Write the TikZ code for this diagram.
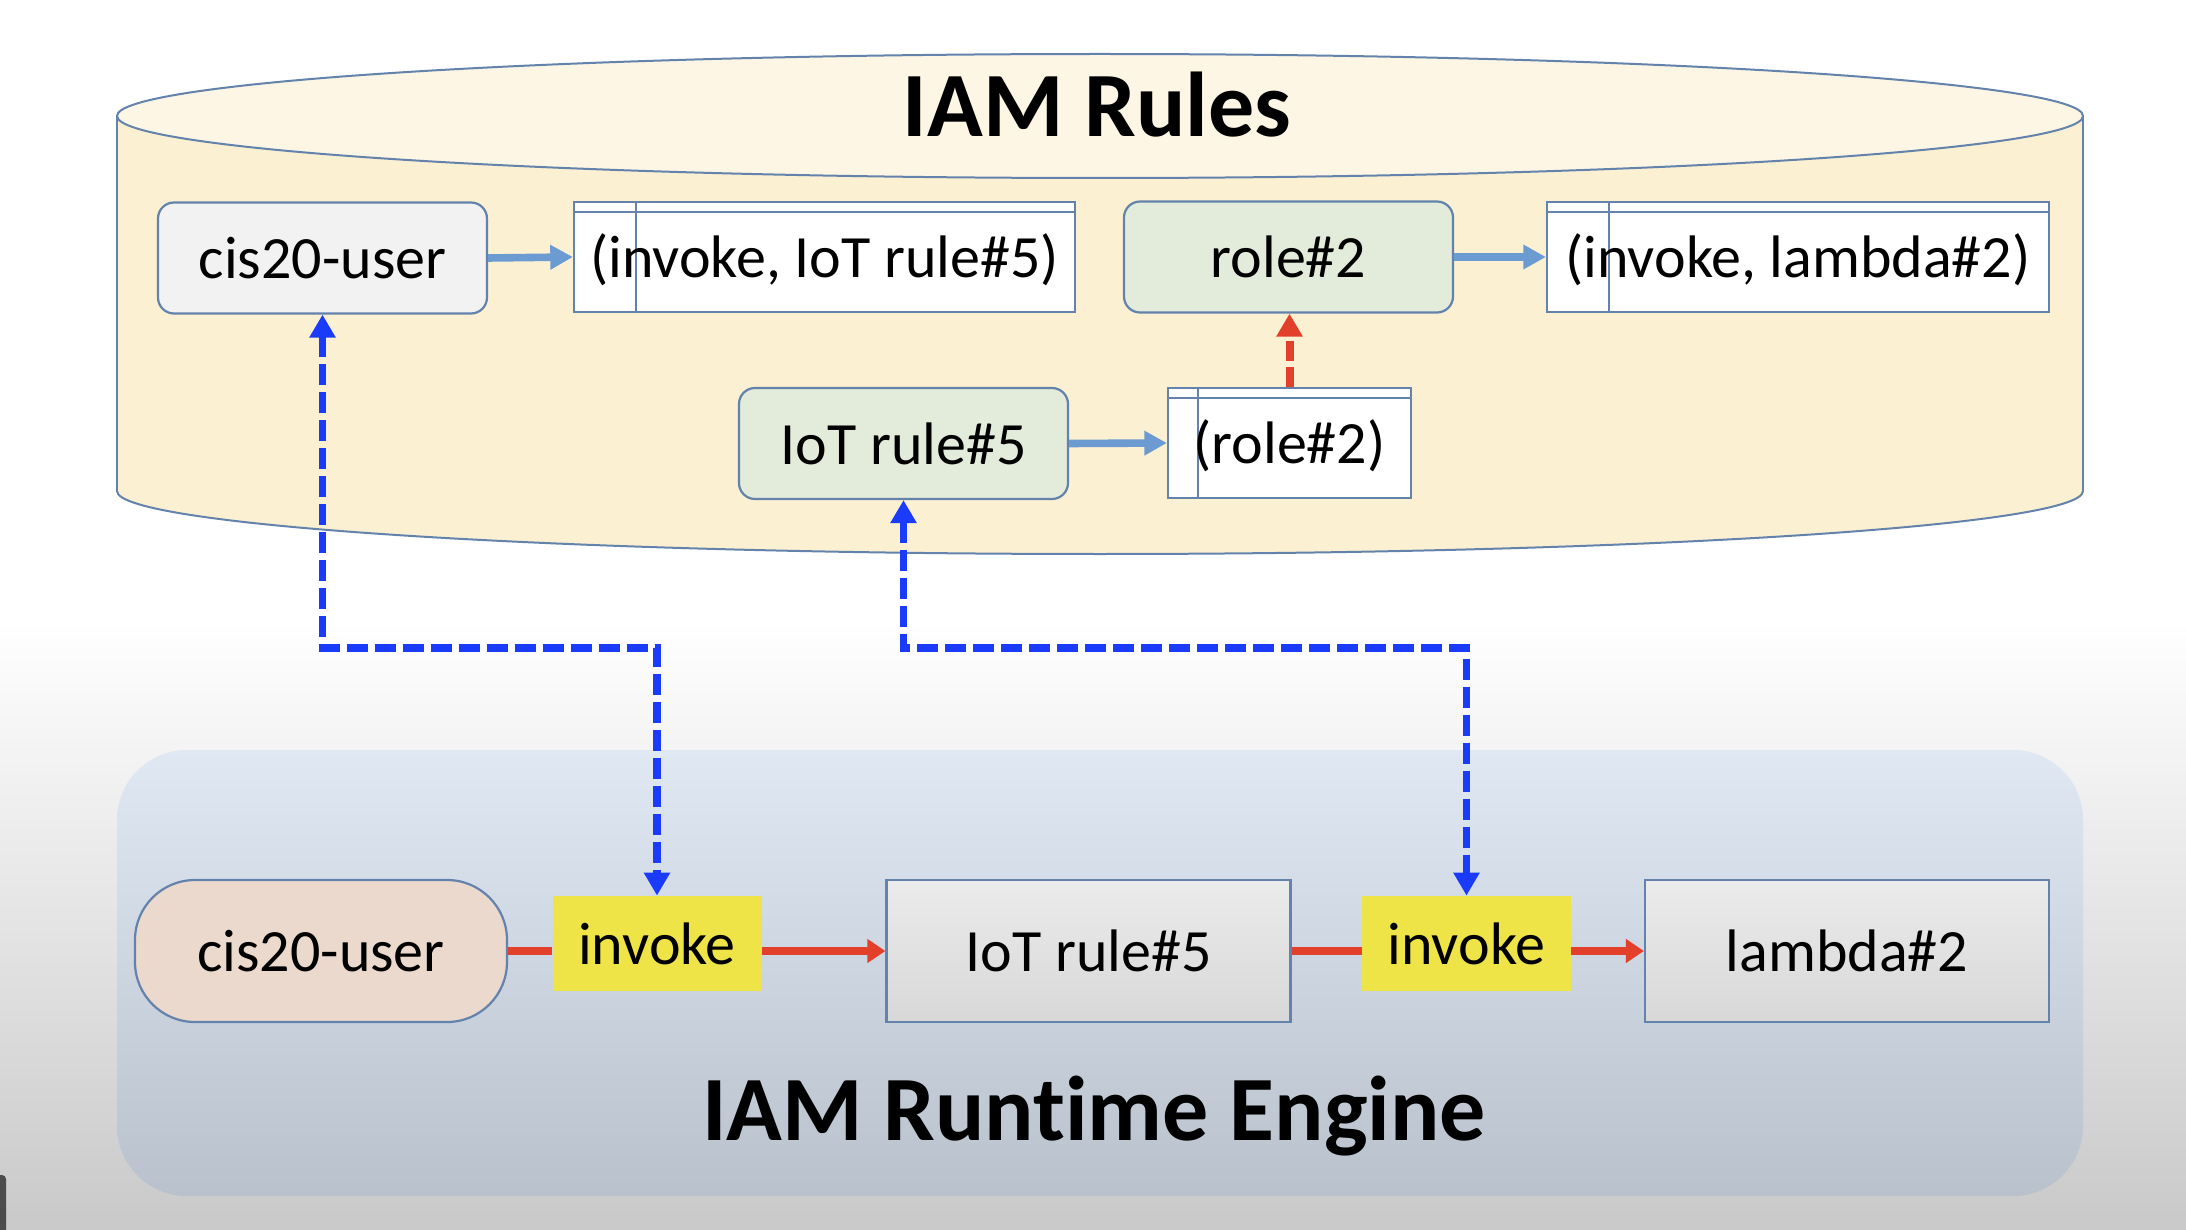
\documentclass[tikz,border=0pt]{standalone}
\usepackage{fontspec}
\setmainfont{Carlito}[Ligatures={NoCommon}]
\usetikzlibrary{arrows.meta}
\definecolor{bgbot}{HTML}{C9C9C9}
\definecolor{cylfill}{HTML}{FCF0D2}
\definecolor{cyltop}{HTML}{FDF6E4}
\definecolor{edgec}{HTML}{6383AD}
\definecolor{grayfill}{HTML}{F2F2F2}
\definecolor{greenfill}{HTML}{E3EBDA}
\definecolor{lblue}{HTML}{6C9BD2}
\definecolor{dblue}{HTML}{1A3CFA}
\definecolor{redc}{HTML}{E2402A}
\definecolor{pantop}{HTML}{DFE8F3}
\definecolor{panbot}{HTML}{B8C1CC}
\definecolor{tanfill}{HTML}{EAD9CC}
\definecolor{yel}{HTML}{EEE447}
\definecolor{boxtop}{HTML}{EBEBEB}
\definecolor{boxbot}{HTML}{D8D8D8}
\begin{document}
\begin{tikzpicture}[x=0.5pt,y=-0.5pt,
  txt/.style={font=\fontsize{30}{36}\selectfont, text=black},
  topnode/.style={txt, rounded corners=8pt, draw=edgec, line width=1.1pt, inner sep=0pt, minimum width=164.5pt, minimum height=55.5pt},
  storebox/.style={draw=edgec, fill=white, line width=1.1pt, inner sep=0pt, minimum height=55pt},
  yelbox/.style={txt, fill=yel, inner sep=0pt, minimum width=104.5pt, minimum height=47.5pt},
  botbox/.style={txt, draw=edgec, line width=1.1pt, top color=boxtop, bottom color=boxbot, inner sep=0pt, minimum width=202pt, minimum height=71pt},
  title/.style={font=\fontsize{46}{52}\selectfont\bfseries, text=black},
  bluearrow/.style={draw=lblue, line width=3.8pt, -{Triangle[length=11.3pt,width=11.7pt]}},
  redarrow/.style={draw=redc, line width=3.8pt, -{Triangle[length=9pt,width=11.5pt]}},
  redline/.style={draw=redc, line width=3.8pt},
  bdash/.style={draw=dblue, line width=3.8pt, dash pattern=on 10.5pt off 3.5pt, {Triangle[length=11.5pt,width=12.5pt]}-{Triangle[length=11.5pt,width=12.5pt]}},
  rdash/.style={draw=redc, line width=4pt, dash pattern=on 10pt off 3pt, -{Triangle[length=11.5pt,width=12.5pt]}},
  innerline/.style={draw=edgec, line width=1.1pt}
]
\useasboundingbox (0,0) rectangle (2186,1230);
% background
\fill[white] (0,0) rectangle (2186,1230);
\shade[top color=white, bottom color=bgbot] (0,620) rectangle (2186,1230);
\fill[black!70, rounded corners=2pt] (-10,1175) rectangle (6,1240);

% cylinder
\path[fill=cylfill, draw=edgec, line width=1pt] (1100,491) ellipse [x radius=983, y radius=63];
\fill[cylfill] (117,116) rectangle (2083,491);
\draw[edgec, line width=1pt] (117,116) -- (117,491) (2083,116) -- (2083,491);
\path[fill=cyltop, draw=edgec, line width=1pt] (1100,116) ellipse [x radius=983, y radius=62];
\node[title] (t1) at (1097,105) {IAM Rules};

% bottom panel
\shade[top color=pantop, bottom color=panbot, rounded corners=35pt] (117,750) rectangle (2083,1196);
\node[title] (t2) at (1094,1116) {IAM Runtime Engine};

% top nodes
\node[topnode, fill=grayfill] (u1) at (322.5,258) {cis20-user};
\node[storebox, minimum width=250.5pt] (p1) at (824.5,257) {};
\node[topnode, fill=greenfill] (r2) at (1288.5,257) {role\#2};
\node[storebox, minimum width=251pt] (p3) at (1798,257) {};
\node[topnode, fill=greenfill] (i5) at (903.5,443.5) {IoT rule\#5};
\node[storebox, minimum width=121.5pt] (p2) at (1289.5,443) {};

% store inner lines
\foreach \n/\off in {p1/31.5pt, p3/31.5pt, p2/15.5pt}{
  \draw[innerline] ([yshift=-5.5pt]\n.north west) -- ([yshift=-5.5pt]\n.north east);
  \draw[innerline] ([xshift=\off]\n.north west) -- ([xshift=\off]\n.south west);
}
% store texts
\node[txt] (p1t) at ([yshift=-1.5pt]p1.center) {(invoke, IoT rule\#5)};
\node[txt] (p3t) at ([yshift=-1.5pt]p3.center) {(invoke, lambda\#2)};
\node[txt] (p2t) at ([yshift=-1.5pt]p2.center) {(role\#2)};

% top arrows
\draw[bluearrow] (u1.east) -- (p1.west);
\draw[bluearrow] (r2.east) -- (p3.west);
\draw[bluearrow] (i5.east) -- (p2.west);
\draw[rdash] (p2.north) -- (p2.north |- r2.south);

% bottom nodes
\node[txt, draw=edgec, line width=1.1pt, fill=tanfill, rounded corners=30pt, inner sep=0pt, minimum width=186pt, minimum height=71pt] (bu) at (321,951) {cis20-user};
\node[yelbox] (inv1) at (657,943.5) {invoke};
\node[botbox] (bi) at (1088.5,951) {IoT rule\#5};
\node[yelbox] (inv2) at (1466.5,943.5) {invoke};
\node[botbox] (bl) at (1847,951) {lambda\#2};

% bottom arrows
\draw[redline] (bu.east) -- (inv1.west |- bu.east);
\draw[redarrow] (inv1.east |- bi.west) -- (bi.west);
\draw[redline] (bi.east) -- (inv2.west |- bi.east);
\draw[redarrow] (inv2.east |- bl.west) -- (bl.west);

% dashed connectors
\coordinate (m) at (0,648);
\draw[bdash] (u1.south) -- (u1.south |- m) -| (inv1.north);
\draw[bdash] (i5.south) -- (i5.south |- m) -| (inv2.north);
\end{tikzpicture}
\end{document}
